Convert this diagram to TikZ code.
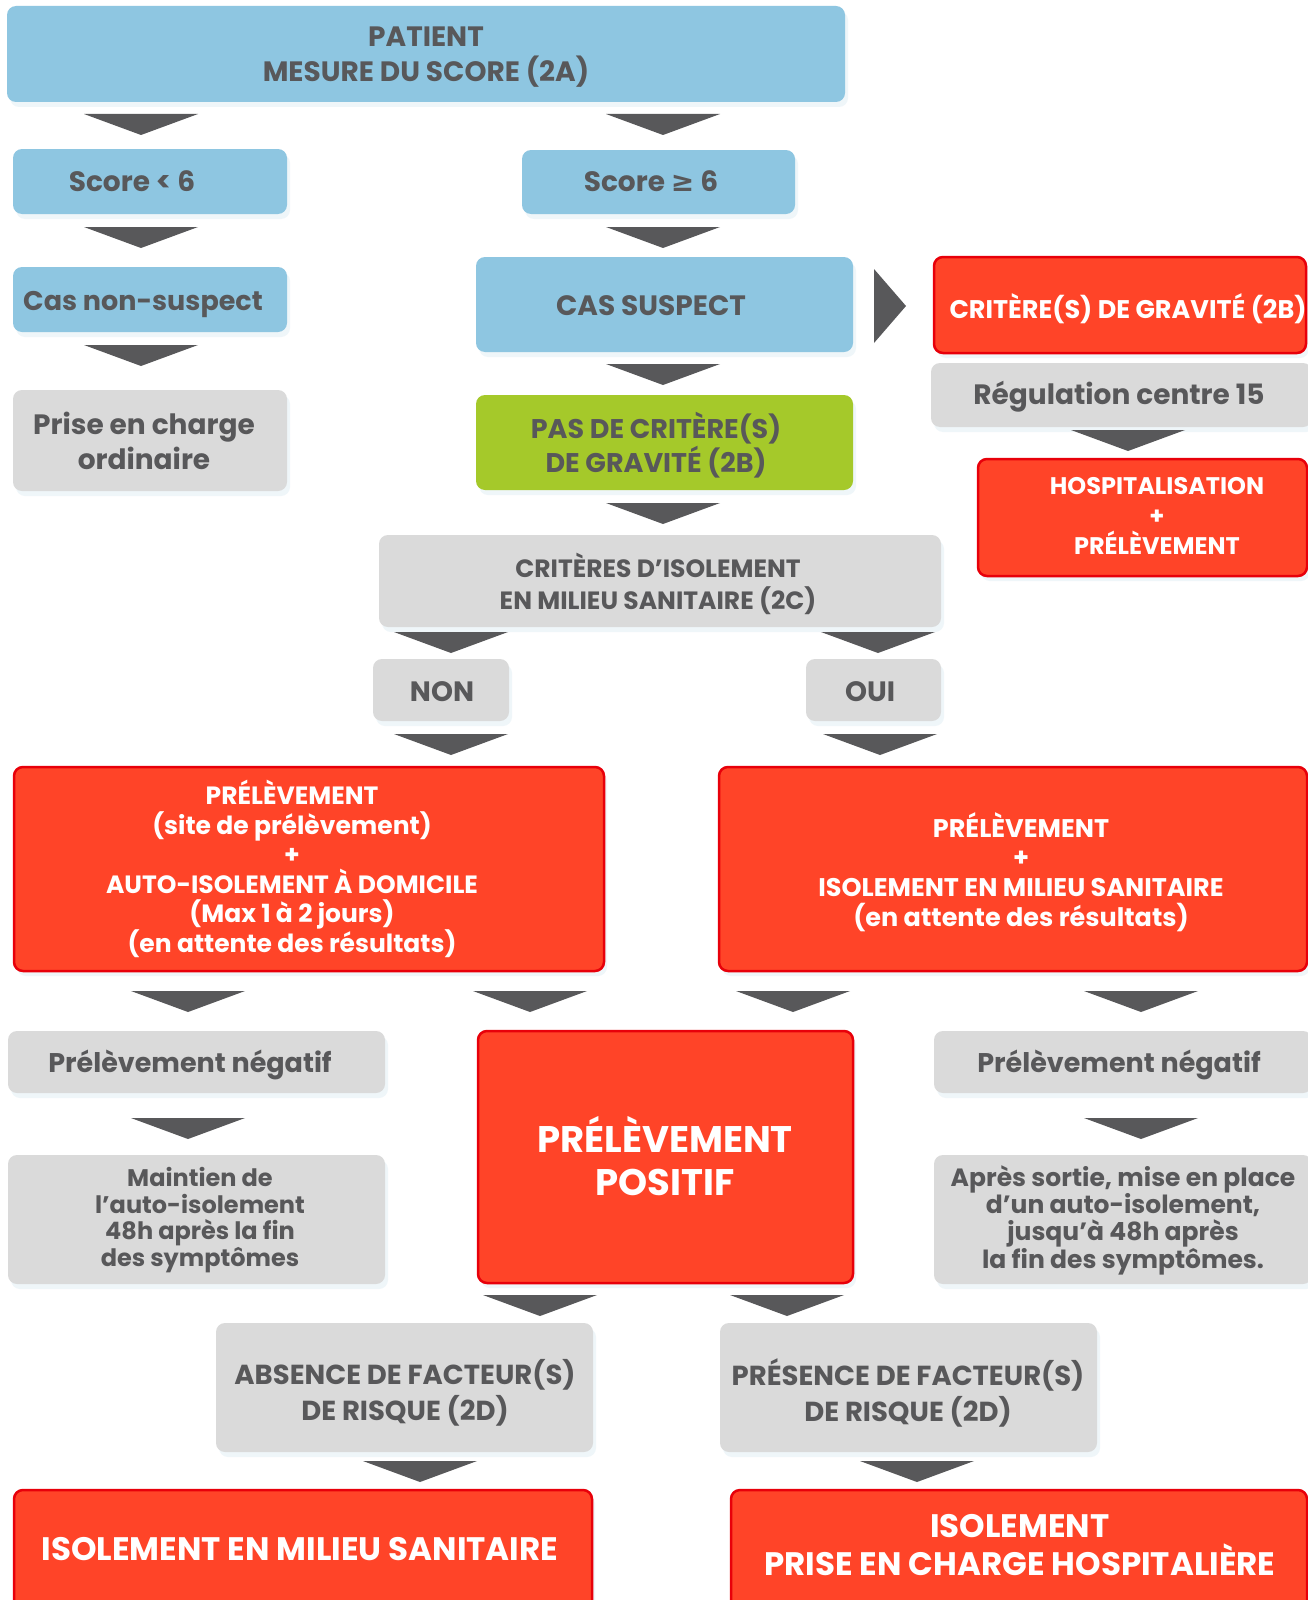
\documentclass[tikz,border=0pt]{standalone}
\usepackage{fontspec}
\setmainfont{Poppins}
\newfontfamily\symf{DejaVu Sans}
\usetikzlibrary{fit,shadows}
\definecolor{bluebx}{HTML}{8EC6E1}
\definecolor{graybx}{HTML}{DADADA}
\definecolor{redbx}{HTML}{FF4428}
\definecolor{redln}{HTML}{E8000A}
\definecolor{greenbx}{HTML}{A5C92A}
\definecolor{txtgray}{HTML}{58585A}
\definecolor{shad}{HTML}{D3E6F0}
\tikzset{
 base/.style={rounded corners=9pt, inner sep=0pt, drop shadow={shadow xshift=3pt, shadow yshift=-5pt, fill=shad, opacity=0.35}},
 bluebox/.style={base, fill=bluebx},
 graybox/.style={base, fill=graybx},
 greenbox/.style={base, fill=greenbx},
 redbox/.style={base, fill=redbx, draw=redln, line width=2.5pt},
 dtxt/.style={text=txtgray, align=center, inner sep=0pt},
 wtxt/.style={text=white, align=center, inner sep=0pt},
 chev/.style={fill=txtgray},
}
\newcommand\fs[2]{\bfseries\fontsize{#1}{#2}\selectfont}
\newcommand\chv[2]{\fill[chev] (#1-57,#2) -- (#1+57,#2) -- (#1,#2+21) -- cycle;}
\newcommand\bx[6]{\node[#1, fit={(#3,#4) (#5,#6)}] (#2) {};}
\begin{document}
\begin{tikzpicture}[x=1pt,y=-1pt]
\useasboundingbox[fill=white] (0,0) rectangle (1308,1600);
% boxes
\bx{bluebox}{patient}{7}{6}{845}{102}
\bx{bluebox}{scoreA}{13}{149}{287}{214}
\bx{bluebox}{scoreB}{522}{150}{795}{214}
\bx{bluebox}{nonsusp}{13}{267}{287}{332}
\bx{graybox}{prise}{13}{390}{287}{491}
\bx{bluebox}{suspect}{476}{257}{853}{352}
\bx{redbox}{grav}{934}{257}{1306}{353}
\bx{graybox}{regul}{931}{363}{1312}{427}
\bx{redbox}{hosp}{978}{459}{1307}{576}
\bx{greenbox}{pasgrav}{476}{395}{853}{490}
\bx{graybox}{isol}{379}{535}{941}{627}
\bx{graybox}{non}{373}{659}{509}{721}
\bx{graybox}{oui}{806}{659}{941}{721}
\bx{redbox}{redL}{14}{767}{604}{971}
\bx{redbox}{redR}{719}{767}{1307}{971}
\bx{graybox}{negL}{8}{1031}{385}{1093}
\bx{redbox}{pos}{478}{1031}{853}{1283}
\bx{graybox}{negR}{934}{1031}{1312}{1093}
\bx{graybox}{maint}{8}{1155}{385}{1284}
\bx{graybox}{apres}{934}{1155}{1312}{1284}
\bx{graybox}{absence}{216}{1323}{593}{1452}
\bx{graybox}{presence}{720}{1323}{1097}{1452}
\bx{redbox}{isoL}{14}{1490}{592}{1612}
\bx{redbox}{isoR}{731}{1490}{1307}{1612}
% chevrons
\chv{141}{114}\chv{663}{114}
\chv{141}{227}\chv{663}{227}
\chv{141}{345}\chv{663}{364}
\chv{663}{503}\chv{1128}{430}
\fill[chev] (874,269) -- (906,306) -- (874,343) -- cycle;
\chv{451}{632}\chv{878}{632}
\chv{451}{734}\chv{880}{734}
\chv{188}{991}\chv{530}{991}\chv{793}{991}\chv{1141}{991}
\chv{188}{1118}\chv{1141}{1118}
\chv{540}{1295}\chv{787}{1295}
\chv{420}{1461}\chv{917}{1461}
% texts
\node[dtxt, font=\fs{28}{35}] (t-patient) at (426,57) {PATIENT\\MESURE DU SCORE (2A)};
\node[dtxt, font=\fs{28}{34}] (t-scoreA) at (132,181) {Score < 6};
\node[dtxt, font=\fs{28}{34}] (t-scoreB) at (651,181) {Score {\symf ≥} 6};
\node[dtxt, font=\fs{27}{34}] (t-nonsusp) at (143,305) {Cas non-suspect};
\node[dtxt, font=\fs{28}{35}] (t-prise) at (144,441) {Prise en charge\\ordinaire};
\node[dtxt, font=\fs{28}{34}] (t-suspect) at (651,306) {CAS SUSPECT};
\node[wtxt, font=\fs{25.5}{34}] (t-grav) at (1128,309) {CRITÈRE(S) DE GRAVITÉ (2B)};
\node[dtxt, font=\fs{28}{34}] (t-regul) at (1119,397) {Régulation centre 15};
\node[wtxt, font=\fs{24}{30}] (t-hosp) at (1157,516) {HOSPITALISATION\\+\\PRÉLÈVEMENT};
\node[dtxt, font=\fs{27}{34}] (t-pasgrav) at (656,445) {PAS DE CRITÈRE(S)\\DE GRAVITÉ (2B)};
\node[dtxt, font=\fs{25}{32}] (t-isol) at (658,584) {CRITÈRES D’ISOLEMENT\\EN MILIEU SANITAIRE (2C)};
\node[dtxt, font=\fs{28}{34}] (t-non) at (442,692) {NON};
\node[dtxt, font=\fs{28}{34}] (t-oui) at (870,692) {OUI};
\node[wtxt, font=\fs{25}{29.6}] (t-redL) at (292,869) {PRÉLÈVEMENT\\(site de prélèvement)\\+\\AUTO-ISOLEMENT À DOMICILE\\(Max 1 à 2 jours)\\(en attente des résultats)};
\node[wtxt, font=\fs{25.5}{29.7}] (t-redR) at (1021,872) {PRÉLÈVEMENT\\+\\ISOLEMENT EN MILIEU SANITAIRE\\(en attente des résultats)};
\node[dtxt, font=\fs{27}{34}] (t-negL) at (190,1065) {Prélèvement négatif};
\node[dtxt, font=\fs{27}{34}] (t-negR) at (1119,1065) {Prélèvement négatif};
\node[wtxt, font=\fs{37}{43}] (t-pos) at (665,1156) {PRÉLÈVEMENT\\POSITIF};
\node[dtxt, font=\fs{24}{26.5}] (t-maint) at (200,1220) {Maintien de\\l’auto-isolement\\48h après la fin\\des symptômes};
\node[dtxt, font=\fs{25}{26.5}] (t-apres) at (1123,1220) {Après sortie, mise en place\\d’un auto-isolement,\\jusqu’à 48h après\\la fin des symptômes.};
\node[dtxt, font=\fs{27.5}{36}] (t-absence) at (405,1393) {ABSENCE DE FACTEUR(S)\\DE RISQUE (2D)};
\node[dtxt, font=\fs{27.5}{36}] (t-presence) at (908,1393) {PRÉSENCE DE FACTEUR(S)\\DE RISQUE (2D)};
\node[wtxt, font=\fs{32.5}{38}] (t-isoL) at (300,1549) {ISOLEMENT EN MILIEU SANITAIRE};
\node[wtxt, font=\fs{32.5}{38}] (t-isoR) at (1020,1545) {ISOLEMENT\\PRISE EN CHARGE HOSPITALIÈRE};
\end{tikzpicture}
\end{document}
